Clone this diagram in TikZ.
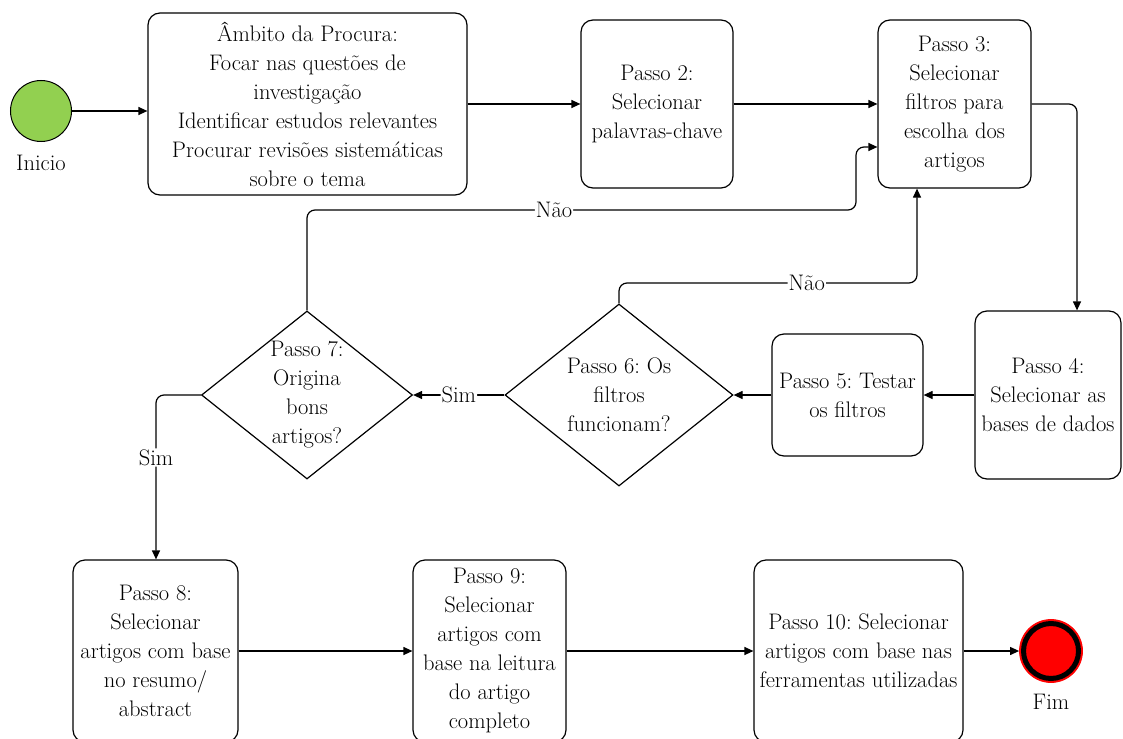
\documentclass[tikz,border=0pt]{standalone}
\usepackage{fontspec}
\usetikzlibrary{shapes.geometric,arrows.meta}

\definecolor{startgreen}{HTML}{92D050}
\definecolor{endred}{HTML}{FF0000}

\tikzset{
  every node/.style={font=\fontsize{22.5}{29}\selectfont\frenchspacing},
  stepbox/.style={draw, line width=1.2pt, rounded corners=12pt, align=center,
    inner sep=1pt},
  decision/.style={draw, diamond, line width=1.2pt, inner sep=0pt},
  dtext/.style={align=center, inner sep=0pt},
  flow/.style={line width=1.2pt, rounded corners=8pt,
    -{Triangle[length=9pt,width=8pt]}},
  lbl/.style={fill=white, inner sep=1pt},
}

\begin{document}
\begin{tikzpicture}[x=1pt,y=-1pt]
\useasboundingbox (0,0) rectangle (1123,738);

% start and end events
\node[circle, draw, line width=1pt, fill=startgreen, minimum size=61pt, inner sep=0pt] (start) at (41,111) {};
\node (startlbl) at (41,163) {Inicio};

\node[circle, fill=endred, draw=endred, line width=0.8pt, minimum size=63pt, inner sep=0pt] (endev) at (1051,651) {};
\draw[line width=5pt] (endev.center) circle[radius=27.5pt];
\node (endlbl) at (1051,702) {Fim};

% top row
\node[stepbox, minimum width=319pt, minimum height=182pt] (b1) at (307.5,104)
  {Âmbito da Procura:\\Focar nas questões de\\investigação\\Identificar estudos relevantes\\Procurar revisões sistemáticas\\sobre o tema};
\node[stepbox, minimum width=152pt, minimum height=168pt] (b2) at (657,104)
  {Passo 2:\\Selecionar\\palavras-chave};
\node[stepbox, minimum width=153pt, minimum height=168pt] (b3) at (954.5,104)
  {Passo 3:\\Selecionar\\filtros para\\escolha dos\\artigos};

% middle row
\node[stepbox, minimum width=146pt, minimum height=168pt] (b4) at (1048,395)
  {Passo 4:\\Selecionar as\\bases de dados};
\node[stepbox, minimum width=151pt, minimum height=122pt] (b5) at (847.5,395)
  {Passo 5: Testar\\os filtros};
\node[decision, minimum width=228pt, minimum height=182pt] (d6) at (619,395) {};
\node[dtext] at (d6.center) {Passo 6: Os\\filtros\\funcionam?};
\node[decision, minimum width=211pt, minimum height=168pt] (d7) at (307,395) {};
\node[dtext] at (d7.center) {Passo 7:\\Origina\\bons\\artigos?};

% bottom row
\node[stepbox, minimum width=165pt, minimum height=182pt] (b8) at (155.5,651)
  {Passo 8:\\Selecionar\\artigos com base\\no resumo/\\abstract};
\node[stepbox, minimum width=153pt, minimum height=182pt] (b9) at (489.5,651)
  {Passo 9:\\Selecionar\\artigos com\\base na leitura\\do artigo\\completo};
\node[stepbox, minimum width=209pt, minimum height=182pt] (b10) at (858.5,651)
  {Passo 10: Selecionar\\artigos com base nas\\ferramentas utilizadas};

% routing points
\coordinate (c34) at (1077,104);
\coordinate (c7a) at (307,210);
\coordinate (c7b) at (856,210);
\coordinate (c7c) at (856,147);
\coordinate (c6a) at (619,283);
\coordinate (c6b) at (917,283);
\coordinate (c78) at (156,395);

% connectors
\draw[flow] (start.east) -- (start.east -| b1.west);
\draw[flow] (b1.east) -- (b2.west);
\draw[flow] (b2.east) -- (b3.west);
\draw[flow] (b3.east) -- (c34) -- (c34 |- b4.north);
\draw[flow] (b4.west) -- (b5.east);
\draw[flow] (b5.west) -- (d6.east);
\draw[flow] (d6.west) -- node[lbl] {Sim} (d7.east);
\draw[flow] (d7.north) -- (c7a) -- node[lbl, pos=0.45] {Não} (c7b) -- (c7c) -- (c7c -| b3.west);
\draw[flow] (d6.north) -- (c6a) -- node[lbl, pos=0.63] {Não} (c6b) -- (c6b |- b3.south);
\draw[flow] (d7.west) -- (c78) -- node[lbl, pos=0.38] {Sim} (c78 |- b8.north);
\draw[flow] (b8.east) -- (b9.west);
\draw[flow] (b9.east) -- (b10.west);
\draw[flow] (b10.east) -- (endev.west);
\end{tikzpicture}
\end{document}
